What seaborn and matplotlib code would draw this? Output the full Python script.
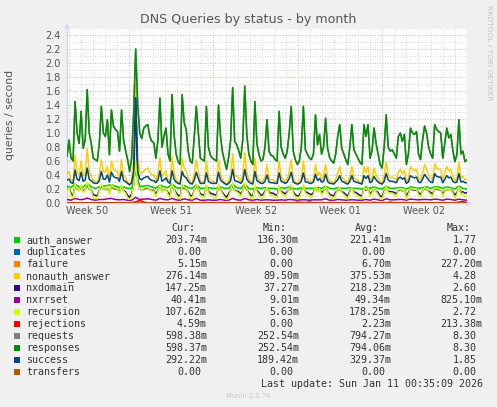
import pandas as pd
import matplotlib
matplotlib.use("Agg")
import matplotlib.pyplot as plt
import matplotlib.dates as mdates
from matplotlib.ticker import MultipleLocator
from matplotlib.patches import Rectangle
import seaborn as sns

sns.set_style("white")
plt.rcParams['font.family'] = ['DejaVu Sans']

# --------------------------------------------
# Data (4h / 8h steps)
# --------------------------------------------
start = pd.Timestamp("2025-12-08 20:30")
end = pd.Timestamp("2026-01-11 00:35")

responses = [
    0.66, 0.90, 0.64, 0.60, 1.45, 1.00, 0.85, 1.31, 0.78, 0.90,
    1.62, 1.00, 0.85, 0.64, 0.62, 0.60, 0.85, 1.38, 1.00, 0.95,
    1.19, 0.69, 1.33, 1.10, 1.05, 1.02, 0.74, 1.33, 0.90, 0.75,
    0.62, 0.45, 0.64, 1.30, 2.20, 1.40, 1.00, 0.92, 1.07, 1.10,
    1.12, 0.95, 0.88, 0.86, 0.64, 0.90, 1.50, 0.80, 0.95, 1.07,
    0.70, 0.60, 1.55, 0.98, 0.70, 0.59, 0.55, 1.55, 1.15, 1.05,
    0.74, 0.60, 0.57, 0.95, 1.38, 1.00, 0.64, 0.62, 0.60, 1.38,
    0.80, 0.68, 0.64, 0.62, 0.60, 1.40, 0.95, 0.72, 0.60, 0.48,
    0.65, 0.90, 1.65, 0.88, 0.83, 0.75, 0.64, 0.90, 1.67, 0.98,
    0.70, 0.60, 0.55, 1.45, 0.85, 0.70, 0.60, 0.62, 0.80, 1.19,
    0.74, 0.68, 0.67, 0.62, 0.60, 1.31, 0.80, 0.70, 0.64, 0.74,
    1.00, 1.38, 0.74, 0.62, 0.55, 0.60, 0.80, 1.38, 0.76, 0.70,
    0.64, 0.62, 0.70, 1.26, 0.83, 0.98, 0.70, 0.80, 1.21, 0.78,
    0.65, 0.60, 0.57, 0.70, 0.95, 1.12, 0.78, 0.70, 0.62, 0.55,
    0.80, 1.12, 0.76, 0.70, 0.64, 0.58, 0.55, 1.12, 0.95, 1.12,
    0.64, 0.75, 1.07, 0.85, 0.70, 0.55, 0.50, 0.80, 1.26, 0.80,
    0.74, 0.76, 0.70, 0.64, 0.95, 1.00, 0.88, 0.98, 0.55, 0.70,
    1.07, 1.00, 0.98, 1.02, 0.70, 0.62, 0.90, 1.10, 1.00, 0.80,
    0.70, 0.64, 1.12, 1.05, 1.02, 1.00, 0.64, 0.85, 1.07, 0.93,
    0.98, 0.75, 0.59, 0.69, 1.19, 0.70, 0.74, 0.59, 0.62,
]
requests = responses  # same values, hidden under responses

nonauth_answer = [
    0.42, 0.45, 0.33, 0.30, 0.68, 0.45, 0.40, 0.60, 0.38, 0.42,
    0.78, 0.45, 0.40, 0.32, 0.31, 0.30, 0.40, 0.62, 0.45, 0.44,
    0.52, 0.34, 0.60, 0.48, 0.46, 0.45, 0.35, 0.62, 0.40, 0.36,
    0.30, 0.26, 0.32, 0.62, 1.70, 0.65, 0.45, 0.42, 0.46, 0.48,
    0.50, 0.44, 0.40, 0.40, 0.32, 0.42, 0.65, 0.38, 0.42, 0.46,
    0.34, 0.30, 0.66, 0.44, 0.34, 0.30, 0.29, 0.64, 0.50, 0.46,
    0.35, 0.30, 0.29, 0.42, 0.62, 0.45, 0.31, 0.30, 0.30, 0.60,
    0.38, 0.33, 0.31, 0.30, 0.30, 0.62, 0.42, 0.34, 0.30, 0.27,
    0.31, 0.40, 0.70, 0.40, 0.38, 0.36, 0.31, 0.40, 0.72, 0.44,
    0.34, 0.30, 0.29, 0.64, 0.39, 0.34, 0.30, 0.31, 0.37, 0.55,
    0.35, 0.33, 0.33, 0.31, 0.30, 0.60, 0.38, 0.34, 0.31, 0.35,
    0.45, 0.62, 0.35, 0.30, 0.28, 0.30, 0.37, 0.60, 0.36, 0.34,
    0.31, 0.30, 0.34, 0.55, 0.39, 0.44, 0.34, 0.38, 0.55, 0.37,
    0.32, 0.30, 0.29, 0.34, 0.42, 0.52, 0.37, 0.34, 0.31, 0.29,
    0.38, 0.52, 0.36, 0.34, 0.32, 0.30, 0.29, 0.52, 0.44, 0.52,
    0.32, 0.36, 0.50, 0.40, 0.35, 0.30, 0.29, 0.38, 0.58, 0.40,
    0.36, 0.37, 0.35, 0.33, 0.44, 0.48, 0.42, 0.46, 0.30, 0.35,
    0.52, 0.48, 0.46, 0.48, 0.35, 0.33, 0.42, 0.55, 0.48, 0.40,
    0.36, 0.34, 0.56, 0.50, 0.48, 0.48, 0.34, 0.42, 0.52, 0.46,
    0.48, 0.38, 0.32, 0.36, 0.58, 0.36, 0.38, 0.33, 0.34,
]

success = [
    0.33, 0.34, 0.29, 0.28, 0.47, 0.34, 0.32, 0.44, 0.31, 0.33,
    0.50, 0.34, 0.32, 0.29, 0.28, 0.28, 0.32, 0.45, 0.34, 0.34,
    0.40, 0.30, 0.44, 0.38, 0.36, 0.36, 0.31, 0.45, 0.32, 0.31,
    0.28, 0.26, 0.29, 0.45, 1.50, 0.46, 0.35, 0.33, 0.36, 0.37,
    0.38, 0.34, 0.32, 0.32, 0.29, 0.33, 0.46, 0.31, 0.33, 0.36,
    0.30, 0.28, 0.46, 0.34, 0.30, 0.28, 0.27, 0.45, 0.38, 0.36,
    0.31, 0.28, 0.27, 0.33, 0.44, 0.35, 0.28, 0.28, 0.28, 0.43,
    0.31, 0.29, 0.28, 0.28, 0.28, 0.44, 0.33, 0.30, 0.28, 0.26,
    0.28, 0.32, 0.48, 0.32, 0.31, 0.30, 0.28, 0.32, 0.48, 0.34,
    0.30, 0.28, 0.27, 0.45, 0.32, 0.30, 0.28, 0.28, 0.31, 0.40,
    0.30, 0.29, 0.29, 0.28, 0.28, 0.43, 0.31, 0.30, 0.28, 0.30,
    0.35, 0.44, 0.30, 0.28, 0.27, 0.28, 0.31, 0.43, 0.30, 0.30,
    0.28, 0.28, 0.30, 0.41, 0.32, 0.35, 0.30, 0.31, 0.41, 0.31,
    0.28, 0.28, 0.27, 0.30, 0.33, 0.39, 0.31, 0.30, 0.28, 0.27,
    0.31, 0.39, 0.31, 0.30, 0.29, 0.28, 0.27, 0.39, 0.35, 0.39,
    0.29, 0.31, 0.38, 0.33, 0.30, 0.28, 0.27, 0.31, 0.42, 0.33,
    0.31, 0.31, 0.30, 0.29, 0.35, 0.37, 0.34, 0.36, 0.28, 0.30,
    0.39, 0.37, 0.36, 0.37, 0.30, 0.29, 0.34, 0.41, 0.37, 0.33,
    0.30, 0.29, 0.42, 0.38, 0.37, 0.37, 0.29, 0.34, 0.39, 0.36,
    0.37, 0.31, 0.29, 0.30, 0.42, 0.30, 0.31, 0.29, 0.29,
]

nxdomain = [
    0.20, 0.22, 0.14, 0.10, 0.26, 0.20, 0.18, 0.24, 0.17, 0.19,
    0.26, 0.20, 0.18, 0.12, 0.11, 0.10, 0.18, 0.24, 0.20, 0.19,
    0.22, 0.15, 0.24, 0.21, 0.20, 0.20, 0.16, 0.24, 0.18, 0.16,
    0.11, 0.08, 0.13, 0.25, 1.50, 0.30, 0.20, 0.18, 0.20, 0.21,
    0.21, 0.19, 0.18, 0.18, 0.13, 0.18, 0.25, 0.17, 0.19, 0.20,
    0.15, 0.11, 0.25, 0.19, 0.15, 0.11, 0.10, 0.25, 0.21, 0.20,
    0.16, 0.11, 0.10, 0.19, 0.24, 0.20, 0.13, 0.12, 0.11, 0.24,
    0.17, 0.14, 0.13, 0.12, 0.11, 0.24, 0.19, 0.15, 0.11, 0.08,
    0.13, 0.18, 0.26, 0.18, 0.17, 0.16, 0.13, 0.18, 0.26, 0.19,
    0.15, 0.11, 0.10, 0.24, 0.18, 0.15, 0.11, 0.12, 0.17, 0.22,
    0.16, 0.14, 0.14, 0.12, 0.11, 0.23, 0.17, 0.15, 0.13, 0.16,
    0.19, 0.24, 0.16, 0.12, 0.10, 0.11, 0.17, 0.24, 0.16, 0.15,
    0.13, 0.12, 0.15, 0.22, 0.17, 0.19, 0.15, 0.17, 0.22, 0.16,
    0.13, 0.11, 0.10, 0.15, 0.18, 0.21, 0.16, 0.15, 0.12, 0.10,
    0.17, 0.21, 0.16, 0.15, 0.13, 0.11, 0.10, 0.21, 0.18, 0.21,
    0.13, 0.16, 0.20, 0.17, 0.15, 0.10, 0.09, 0.17, 0.22, 0.17,
    0.16, 0.16, 0.15, 0.13, 0.18, 0.19, 0.17, 0.19, 0.10, 0.15,
    0.20, 0.19, 0.18, 0.19, 0.15, 0.12, 0.17, 0.21, 0.19, 0.17,
    0.15, 0.13, 0.21, 0.20, 0.19, 0.19, 0.13, 0.17, 0.20, 0.18,
    0.19, 0.16, 0.11, 0.15, 0.21, 0.15, 0.16, 0.14, 0.15,
]

recursion = [
    0.18, 0.22, 0.10, 0.07, 0.28, 0.20, 0.17, 0.26, 0.15, 0.18,
    0.30, 0.20, 0.17, 0.08, 0.07, 0.06, 0.17, 0.27, 0.20, 0.19,
    0.24, 0.12, 0.26, 0.22, 0.21, 0.20, 0.14, 0.26, 0.17, 0.14,
    0.07, 0.05, 0.09, 0.26, 0.60, 0.28, 0.20, 0.18, 0.21, 0.22,
    0.22, 0.19, 0.17, 0.17, 0.09, 0.17, 0.27, 0.15, 0.19, 0.21,
    0.12, 0.07, 0.27, 0.19, 0.12, 0.07, 0.06, 0.27, 0.22, 0.21,
    0.14, 0.07, 0.06, 0.19, 0.26, 0.20, 0.09, 0.08, 0.07, 0.26,
    0.15, 0.11, 0.09, 0.08, 0.07, 0.26, 0.19, 0.13, 0.07, 0.05,
    0.09, 0.17, 0.29, 0.17, 0.16, 0.14, 0.09, 0.17, 0.29, 0.19,
    0.12, 0.07, 0.06, 0.26, 0.16, 0.12, 0.07, 0.08, 0.15, 0.23,
    0.14, 0.11, 0.11, 0.08, 0.07, 0.25, 0.15, 0.12, 0.09, 0.14,
    0.20, 0.26, 0.14, 0.08, 0.06, 0.07, 0.15, 0.26, 0.14, 0.12,
    0.09, 0.08, 0.12, 0.24, 0.16, 0.20, 0.12, 0.15, 0.24, 0.15,
    0.09, 0.07, 0.06, 0.12, 0.19, 0.22, 0.15, 0.12, 0.08, 0.06,
    0.15, 0.22, 0.14, 0.12, 0.09, 0.07, 0.06, 0.22, 0.19, 0.22,
    0.09, 0.14, 0.21, 0.16, 0.12, 0.06, 0.05, 0.15, 0.24, 0.15,
    0.14, 0.14, 0.12, 0.09, 0.19, 0.20, 0.17, 0.20, 0.06, 0.12,
    0.21, 0.20, 0.19, 0.20, 0.12, 0.08, 0.17, 0.22, 0.20, 0.15,
    0.12, 0.09, 0.22, 0.21, 0.20, 0.20, 0.09, 0.16, 0.21, 0.18,
    0.19, 0.14, 0.07, 0.12, 0.23, 0.12, 0.14, 0.08, 0.11,
]

# 8h steps
auth_answer = [
    0.24, 0.22, 0.27, 0.23, 0.23, 0.28, 0.23, 0.21, 0.23, 0.24,
    0.25, 0.26, 0.24, 0.22, 0.23, 0.21, 0.21, 0.45, 0.24, 0.24,
    0.25, 0.23, 0.21, 0.26, 0.23, 0.22, 0.27, 0.22, 0.21, 0.25,
    0.22, 0.21, 0.26, 0.21, 0.21, 0.22, 0.21, 0.21, 0.23, 0.21,
    0.21, 0.27, 0.22, 0.21, 0.27, 0.21, 0.20, 0.22, 0.21, 0.22,
    0.21, 0.21, 0.20, 0.22, 0.21, 0.23, 0.21, 0.20, 0.22, 0.21,
    0.21, 0.21, 0.22, 0.21, 0.24, 0.21, 0.20, 0.22, 0.21, 0.21,
    0.22, 0.21, 0.21, 0.20, 0.23, 0.21, 0.23, 0.21, 0.20, 0.24,
    0.21, 0.21, 0.22, 0.22, 0.20, 0.23, 0.22, 0.21, 0.22, 0.23,
    0.21, 0.23, 0.23, 0.21, 0.23, 0.22, 0.20, 0.24, 0.21, 0.20,
]

nxrrset = [
    0.050, 0.040, 0.065, 0.050, 0.050, 0.070, 0.050, 0.040, 0.050, 0.050,
    0.060, 0.065, 0.050, 0.045, 0.050, 0.040, 0.040, 0.080, 0.050, 0.055,
    0.060, 0.050, 0.040, 0.065, 0.050, 0.045, 0.065, 0.045, 0.040, 0.060,
    0.045, 0.040, 0.065, 0.040, 0.040, 0.045, 0.040, 0.040, 0.050, 0.040,
    0.040, 0.065, 0.045, 0.040, 0.065, 0.045, 0.040, 0.050, 0.040, 0.045,
    0.045, 0.040, 0.040, 0.045, 0.040, 0.050, 0.045, 0.040, 0.045, 0.045,
    0.040, 0.045, 0.045, 0.045, 0.060, 0.040, 0.040, 0.050, 0.045, 0.040,
    0.045, 0.045, 0.040, 0.040, 0.050, 0.040, 0.055, 0.045, 0.035, 0.060,
    0.045, 0.045, 0.050, 0.050, 0.040, 0.055, 0.050, 0.045, 0.050, 0.050,
    0.045, 0.055, 0.050, 0.040, 0.055, 0.050, 0.040, 0.055, 0.045, 0.040,
]

failure = [
    0.004, 0.005, 0.006, 0.005, 0.004, 0.006, 0.005, 0.004, 0.005, 0.006,
    0.005, 0.004, 0.006, 0.005, 0.004, 0.005, 0.008, 0.012, 0.010, 0.006,
    0.005, 0.004, 0.008, 0.006, 0.005, 0.004, 0.007, 0.010, 0.006, 0.005,
    0.004, 0.008, 0.006, 0.005, 0.012, 0.007, 0.005, 0.004, 0.006, 0.010,
    0.006, 0.005, 0.004, 0.008, 0.006, 0.005, 0.011, 0.006, 0.004, 0.005,
    0.007, 0.005, 0.004, 0.009, 0.006, 0.005, 0.004, 0.008, 0.012, 0.006,
    0.005, 0.004, 0.007, 0.006, 0.005, 0.010, 0.006, 0.004, 0.005, 0.008,
    0.006, 0.005, 0.004, 0.007, 0.010, 0.006, 0.005, 0.004, 0.008, 0.006,
    0.005, 0.004, 0.007, 0.011, 0.006, 0.005, 0.004, 0.006, 0.009, 0.005,
    0.004, 0.006, 0.005, 0.008, 0.006, 0.004, 0.005, 0.007, 0.006, 0.005,
]

rejections = [
    0.002, 0.002, 0.003, 0.002, 0.002, 0.002, 0.003, 0.002, 0.002, 0.002,
    0.002, 0.003, 0.002, 0.002, 0.002, 0.003, 0.004, 0.015, 0.040, 0.012,
    0.003, 0.002, 0.002, 0.003, 0.002, 0.002, 0.002, 0.003, 0.002, 0.002,
    0.002, 0.003, 0.002, 0.002, 0.003, 0.002, 0.002, 0.002, 0.003, 0.002,
    0.002, 0.002, 0.003, 0.002, 0.002, 0.002, 0.003, 0.002, 0.002, 0.002,
    0.003, 0.002, 0.002, 0.002, 0.003, 0.002, 0.002, 0.012, 0.003, 0.002,
    0.015, 0.003, 0.002, 0.002, 0.003, 0.002, 0.002, 0.002, 0.003, 0.002,
    0.002, 0.002, 0.003, 0.002, 0.002, 0.002, 0.010, 0.003, 0.002, 0.002,
    0.012, 0.003, 0.002, 0.002, 0.003, 0.002, 0.002, 0.002, 0.003, 0.002,
    0.002, 0.003, 0.002, 0.002, 0.003, 0.002, 0.004, 0.012, 0.020, 0.005,
]

duplicates = [0.0] * 100
transfers = [0.0] * 100

# legend table
field_names = ["auth_answer", "duplicates", "failure", "nonauth_answer", "nxdomain",
               "nxrrset", "recursion", "rejections", "requests", "responses",
               "success", "transfers"]
field_colors = ["#00cc00", "#0066b3", "#ff8000", "#ffcc00", "#330099", "#990099",
                "#ccff00", "#ff0000", "#808080", "#008f00", "#00487d", "#b35a00"]
cur_vals = ["203.74m", "0.00", "5.15m", "276.14m", "147.25m", "40.41m", "107.62m",
            "4.59m", "598.38m", "598.37m", "292.22m", "0.00"]
min_vals = ["136.30m", "0.00", "0.00", "89.50m", "37.27m", "9.01m", "5.63m",
            "0.00", "252.54m", "252.54m", "189.42m", "0.00"]
avg_vals = ["221.41m", "0.00", "6.70m", "375.53m", "218.23m", "49.34m", "178.25m",
            "2.23m", "794.27m", "794.06m", "329.37m", "0.00"]
max_vals = ["1.77", "0.00", "227.20m", "4.28", "2.60", "825.10m", "2.72",
            "213.38m", "8.30", "8.30", "1.85", "0.00"]

series = {
    "auth_answer": auth_answer, "duplicates": duplicates, "failure": failure,
    "nonauth_answer": nonauth_answer, "nxdomain": nxdomain, "nxrrset": nxrrset,
    "recursion": recursion, "rejections": rejections, "requests": requests,
    "responses": responses, "success": success, "transfers": transfers,
}

# --------------------------------------------
# Figure
# --------------------------------------------
W, H = 497, 407
fx = lambda x: x / W
fy = lambda y: 1 - y / H

fig = plt.figure(figsize=(W / 100, H / 100), dpi=100)
fig.patch.set_facecolor("#f0f0f0")
ax = fig.add_axes([fx(67), fy(203), 400 / W, 175 / H])
ax.set_facecolor("white")

for i, name in enumerate(field_names):
    vals = series[name]
    t = pd.date_range(start, end, periods=len(vals))
    sns.lineplot(x=t, y=vals, ax=ax, color=field_colors[i], linewidth=1.1,
                 zorder=3 + i, legend=False)

ax.set_xlim(start, end)
ax.set_ylim(0, 2.5)
ax.set_xlabel("")
ax.set_ylabel("")

# grid: gray dotted per day / 0.1, red dotted per week / 0.2
ax.xaxis.set_major_locator(mdates.WeekdayLocator(byweekday=mdates.SU))
ax.xaxis.set_minor_locator(mdates.DayLocator())
ax.yaxis.set_major_locator(MultipleLocator(0.2))
ax.yaxis.set_minor_locator(MultipleLocator(0.1))
ax.grid(which="minor", color="#dadada", linestyle=(0, (1, 1.5)), linewidth=0.72, zorder=1)
ax.grid(which="major", color="#eeb4b4", linestyle=(0, (1, 1.5)), linewidth=0.72, zorder=2)
ax.set_axisbelow(True)
ax.tick_params(axis="x", which="both", labelbottom=False, length=2, color="#999999")
ax.tick_params(axis="y", which="both", length=0, pad=4.3, labelsize=7, labelcolor="#555555")
ax.yaxis.set_major_formatter(plt.FormatStrFormatter("%.1f"))

for side in ["top", "right"]:
    ax.spines[side].set_visible(False)
for side in ["left", "bottom"]:
    ax.spines[side].set_color("#cfd6f8")
    ax.spines[side].set_linewidth(1.0)

# axis arrows
ax.annotate("", xy=(0, 1.045), xytext=(0, 0.98), xycoords="axes fraction",
            arrowprops=dict(arrowstyle="-|>", color="#cfd6f8", lw=1.0, mutation_scale=7),
            annotation_clip=False)
ax.annotate("", xy=(1.02, 0), xytext=(0.99, 0), xycoords="axes fraction",
            arrowprops=dict(arrowstyle="-|>", color="#cfd6f8", lw=1.0, mutation_scale=7),
            annotation_clip=False)

# week labels, centred in the week
for sunday in pd.date_range("2025-12-07", "2026-01-04", freq="7D"):
    mid = sunday + pd.Timedelta(hours=84)
    if start <= mid <= end:
        ax.text(mid, -0.046, "Week %s" % mid.strftime("%V"), transform=ax.get_xaxis_transform(),
                ha="center", va="center", fontsize=7, color="#555555")

# titles
fig.text(fx(248), fy(19), "DNS Queries by status - by month", ha="center", va="center",
         fontsize=9.1, color="#555555")
fig.text(fx(10), fy(115), "queries / second", rotation=90, ha="center", va="center",
         fontsize=7.8, color="#555555")
fig.text(fx(489), fy(53), "RRDTOOL / TOBI OETIKER", rotation=270, ha="center", va="center",
         fontsize=5.4, color="#c4c4c4")

# legend table
mono = dict(fontfamily="DejaVu Sans Mono", fontsize=7.2, color="#333333", va="baseline")
col_ends = [201, 293, 385, 476.7]
charw = 6.0
for c, head in enumerate(["Cur:", "Min:", "Avg:", "Max:"]):
    fig.text(fx(col_ends[c] - charw), fy(230.7), head, ha="right", **mono)

for i, name in enumerate(field_names):
    base = 242.7 + 12.03 * i
    fig.patches.append(Rectangle((fx(14), fy(base)), 6 / W, 6 / H, transform=fig.transFigure,
                                 facecolor=field_colors[i], edgecolor="none"))
    fig.text(fx(26), fy(base), name, ha="left", **mono)
    for c, vals in enumerate([cur_vals, min_vals, avg_vals, max_vals]):
        s = vals[i]
        xe = col_ends[c] + (charw if s.endswith("m") else 0)
        fig.text(fx(xe), fy(base), s, ha="right", **mono)

fig.text(fx(483), fy(386.7), "Last update: Sun Jan 11 00:35:09 2026", ha="right", **mono)
fig.text(fx(248), fy(395.7), "Munin 2.0.76", ha="center", va="center", fontsize=4.9,
         color="#c8c8c8")

plt.savefig("out.png", dpi=100, facecolor=fig.get_facecolor())
plt.close()
